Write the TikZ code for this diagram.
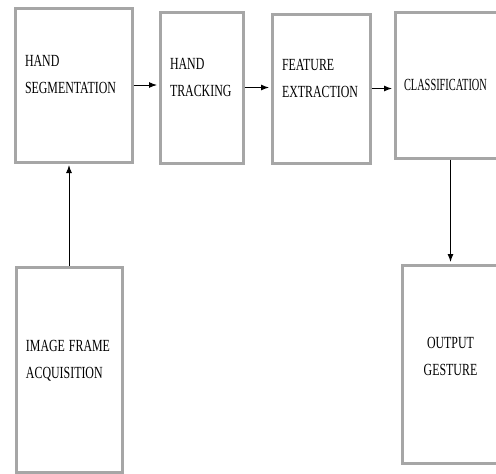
\documentclass[tikz,border=0pt]{standalone}
\usepackage{graphicx}
\usepackage{fontspec}
\setmainfont{Liberation Serif}
\usetikzlibrary{arrows.meta}

% narrow, tall capitals as in the figure
\newcommand{\squeeze}[2][0.7]{\scalebox{#1}[1]{#2}}

\begin{document}
\begin{tikzpicture}[
    x=1pt, y=-1pt,
    stage/.style={draw=gray!70, line width=3pt, rectangle, align=left,
                  font=\fontsize{17}{27}\selectfont},
    flow/.style={-{Latex[length=8pt,width=6pt]}, black, line width=1pt, shorten >=1.5pt}
]
       % 1. Fix the page to the size of the figure
       \clip (0,0) rectangle (496,474);
       \fill[white] (0,0) rectangle (496,474);

       % 2. Top row of processing stages (empty last line lifts the text a little)
       \node[stage, minimum width=117pt, minimum height=154pt, text width=97pt] (seg) at (73.5,85) {\squeeze{HAND}\\\squeeze{SEGMENTATION}\\[-6pt]\mbox{}};
       \node[stage, minimum width=83pt, minimum height=151pt, text width=63pt] (track) at (201.5,87.5) {\squeeze{HAND}\\\squeeze{TRACKING}\\[-6pt]\mbox{}};
       \node[stage, minimum width=98pt, minimum height=149pt, text width=78pt] (feat) at (321,88.5) {\squeeze{FEATURE}\\\squeeze{EXTRACTION}\\[-6pt]\mbox{}};
       \node[stage, minimum width=104pt, minimum height=146pt, text width=86pt] (cls) at (447,85) {\squeeze[0.61]{CLASSIFICATION}};

       % 3. Input and output stages
       \node[stage, minimum width=106pt, minimum height=205pt, text width=86pt] (acq) at (69,369.5) {\squeeze{IMAGE FRAME}\\\squeeze{ACQUISITION}\\[-6pt]\mbox{}};
       \node[stage, minimum width=97pt, minimum height=198pt, text width=77pt, align=center] (out) at (450.5,364) {\squeeze{OUTPUT}\\\squeeze{GESTURE}\\[-12pt]\mbox{}};

       % 4. Connect the stages
       \draw[flow] (seg.east) -- (seg.east -| track.west);
       \draw[flow] (track.east) -- (track.east -| feat.west);
       \draw[flow] (feat.east) -- (feat.east -| cls.west);
       \draw[flow] (acq.north) -- (acq.north |- seg.south);
       \draw[flow] (out.north |- cls.south) -- (out.north);

    \end{tikzpicture}
\end{document}
